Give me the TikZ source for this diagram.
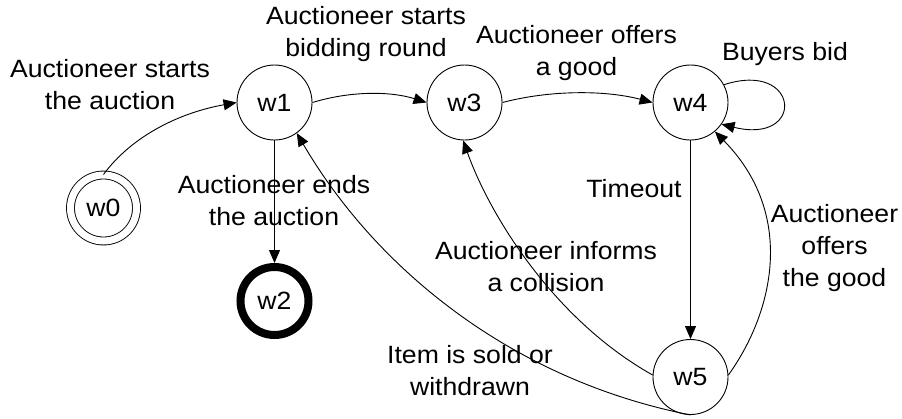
\documentclass[tikz,border=0pt]{standalone}
\usepackage{fontspec}
\setmainfont[FakeStretch=1.065]{Liberation Sans}
\usetikzlibrary{arrows.meta}
\begin{document}
\begin{tikzpicture}[x=1pt,y=1pt,
  state/.style={circle,draw,line width=0.9pt,minimum size=75pt,inner sep=0pt,
    font=\fontsize{25}{31}\selectfont},
  % base anchor of a multi-line label sits on its last line
  lbl/.style={align=center,inner sep=0pt,anchor=base,
    font=\fontsize{25}{32}\selectfont},
  arr/.style={line width=0.9pt,-{Triangle[length=13pt,width=11pt]}}]
\useasboundingbox (0,0) rectangle (902,-418);

% states
\node[state] (w1) at (274.5,-102.5) {w1};
\node[state] (w3) at (464.5,-102.5) {w3};
\node[state] (w4) at (690.5,-102.5) {w4};
\node[state] (w5) at (690.5,-377) {w5};
\node[state,double,double distance=7pt,minimum size=66pt] (w0) at (103.5,-208) {w0};
\node[state,line width=8pt,minimum size=68pt] (w2) at (274.5,-301) {w2};

% transitions
\draw[arr] (w0.north) .. controls (131,-137) and (178,-113) .. (w1.west);
\draw[arr] (w1.east) .. controls (350,-91) and (390,-91) .. (w3.west);
\draw[arr] (w3.east) .. controls (550,-90) and (605,-90) .. (w4.west);
\draw[arr] (w1.south) -- (w2.north);
\draw[arr] (w4.south) -- (w5.north);
\draw[arr] (w4.28) .. controls (800,-60) and (806,-145) .. (w4.-35);
\draw[arr] (w5.3) .. controls (775,-310) and (795,-213) .. (w4.-50);
\draw[arr] (w5.177) .. controls (551,-318) and (488,-211) .. (w3.-92);
\draw[arr] (w5.south) .. controls (513,-380) and (377,-270) .. (w1.-54);

% transition labels
\node[lbl] (t01) at (110,-109) {Auctioneer starts\\the auction};
\node[lbl] (t13) at (366,-56) {Auctioneer starts\\bidding round};
\node[lbl] (t34) at (576.5,-75) {Auctioneer offers\\a good};
\node[lbl] (t44) at (785,-60) {Buyers bid};
\node[lbl] (t12) at (274,-225) {Auctioneer ends\\the auction};
\node[lbl] (t45) at (634,-197) {Timeout};
\node[lbl] (t53) at (546,-291) {Auctioneer informs\\a collision};
\node[lbl] (t51) at (470,-395) {Item is sold or\\withdrawn};
\node[lbl] (t54) at (834.5,-286) {Auctioneer\\offers\\the good};
\end{tikzpicture}
\end{document}
